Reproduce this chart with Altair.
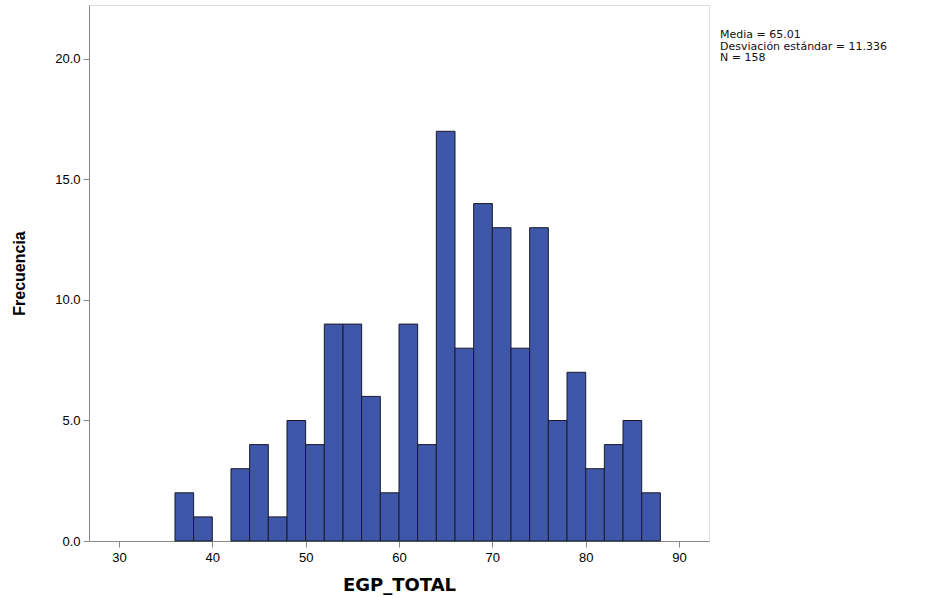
import altair as alt
import pandas as pd

bin_start = [36, 38, 40, 42, 44, 46, 48, 50, 52, 54, 56, 58, 60, 62, 64, 66, 68, 70, 72, 74, 76, 78, 80, 82, 84, 86]
counts = [2, 1, 0, 3, 4, 1, 5, 4, 9, 9, 6, 2, 9, 4, 17, 8, 14, 13, 8, 13, 5, 7, 3, 4, 5, 2]
stats_lines = ["Media = 65.01", "Desviación estándar = 11.336", "N = 158"]

df = pd.DataFrame({"start": bin_start, "end": [b + 2 for b in bin_start], "count": counts})
df = df[df["count"] > 0]

W, H = 620, 536

bars = alt.Chart(df).mark_rect(
    color="#3e57a8", stroke="#1a1a2a", strokeWidth=1
).encode(
    x=alt.X("start:Q", scale=alt.Scale(domain=[26.79, 93.21], nice=False, zero=False),
            axis=alt.Axis(values=[30, 40, 50, 60, 70, 80, 90], title="EGP_TOTAL",
                          grid=False, tickSize=6, labelPadding=4,
                          titleFontSize=18, titleFontWeight="bold", titlePadding=12,
                          titleFont="DejaVu Sans", labelFontSize=13)),
    x2="end:Q",
    y=alt.Y("count:Q", scale=alt.Scale(domain=[0, 22.24], nice=False),
            axis=alt.Axis(values=[0, 5, 10, 15, 20], format=".1f", title="Frecuencia",
                          grid=False, tickSize=6, labelPadding=3,
                          titleFontSize=16, titleFontWeight="bold", titlePadding=27,
                          labelFontSize=13)),
    y2=alt.datum(0),
)

stats_df = pd.DataFrame({"line": stats_lines, "i": list(range(len(stats_lines)))})
stats = alt.Chart(stats_df).mark_text(
    align="left", baseline="middle", fontSize=11, font="DejaVu Sans", color="#111"
).encode(
    x=alt.value(W + 11),
    y=alt.Y("i:Q", scale=alt.Scale(domain=[0, 2], range=[30, 53]), axis=None),
    text="line:N",
)

chart = alt.layer(bars, stats).resolve_scale(y="independent").properties(
    width=W, height=H,
    autosize=alt.AutoSizeParams(type="none"),
    padding={"left": 89, "top": 5, "right": 233, "bottom": 57},
).configure_view(
    stroke="#555", strokeWidth=1
).configure_axis(
    domainColor="#222", tickColor="#222", labelColor="#333", titleColor="#000",
    labelFont="Liberation Sans", titleFont="Liberation Sans", domainWidth=1.5
).configure(background="white")

chart.save("out.html", embed_options={"renderer": "svg", "actions": False})
